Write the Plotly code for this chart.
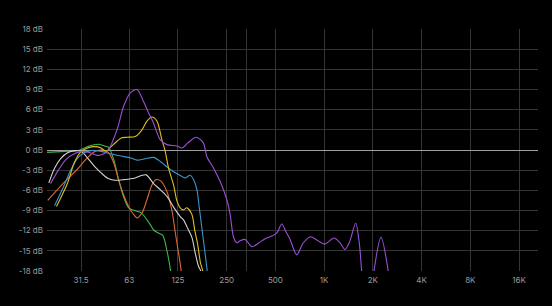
import plotly.graph_objects as go
import math

# ---- data (frequency in Hz, gain in dB) ----
purple_f = [20.4, 22.8, 25.2, 29.0, 32.1, 35.9, 39.7, 43.2, 46.4, 52.5, 57.7, 63.4, 69.8, 76.6, 82.3, 88.0,
            97.2, 106.9, 123.2, 132.2, 144.6, 162.0, 179, 188.6, 206.3, 227.8, 250.6, 262.6, 275.2, 288.8,
            302.7, 325, 357.5, 390.9, 431.9, 485.7, 512, 547.2, 581.8, 615.8, 677.2, 743.6, 826, 890.8, 943,
            1012, 1151, 1253, 1345, 1429, 1566, 1648, 1705, 1787, 1918, 2030, 2243, 2487, 2622]
purple_db = [-5.0, -3.0, -1.5, -0.5, -0.2, -0.4, -0.8, -0.6, 0.0, 3.0, 6.5, 8.5, 9.0, 7.2, 5.5, 4.1,
             1.5, 0.8, 0.6, 0.3, 1.1, 1.9, 1.1, -1.0, -2.6, -4.7, -7.4, -9.6, -12.9, -13.8,
             -13.5, -13.3, -14.4, -13.9, -13.2, -12.7, -12.3, -11.0, -12.2, -13.3, -15.6, -13.8, -12.9, -13.3, -13.7,
             -14.0, -13.1, -13.8, -14.8, -13.8, -10.9, -13.8, -18, -24, -24, -18, -13.0, -18, -24]

yellow_f = [22.2, 26.0, 28.6, 31.5, 34.6, 38.0, 41.9, 44.9, 48.3, 52.5, 55.8, 60.5, 68.1, 74.9, 80.4, 86.3,
            92.7, 99.5, 104.3, 109.3, 117.4, 123.2, 129.1, 135.3, 141.9, 152.4, 158.6, 165, 172.2, 177.7, 186.7]
yellow_db = [-8.4, -4.9, -1.9, -0.2, 0.3, 0.5, 0.3, -0.2, 0.5, 1.3, 1.8, 1.9, 2.0, 3.0, 4.3, 4.9,
             4.3, 1.5, -0.2, -2.7, -5.2, -7.6, -8.6, -8.9, -8.6, -9.6, -11.9, -13.9, -16.8, -18, -24]

blue_f = [21.6, 24.3, 27.3, 30.0, 33.0, 36.3, 41.9, 48.3, 55.6, 64.1, 69.8, 78.5, 88.4, 97.2, 104.3, 112,
          129.1, 138.6, 148.8, 155.9, 163.6, 169.1, 179.7, 189.4, 197.7]
blue_db = [-8.3, -5.7, -2.9, -1.2, -0.4, -0.1, -0.2, -0.6, -0.9, -1.2, -1.5, -1.3, -1.1, -1.7, -2.3, -2.9,
           -3.8, -4.15, -3.75, -4.4, -5.9, -8.5, -13.5, -18, -24]

white_f = [19.9, 21.6, 23.7, 26.0, 28.6, 31.5, 34.6, 38.0, 41.9, 46.0, 50.6, 58.3, 67.1, 74.2, 79.6, 88.4,
           97.2, 106.9, 117.4, 129.1, 135.3, 141.9, 152.4, 159.7, 167.4, 172.7, 181.5]
white_db = [-4.9, -2.7, -1.2, -0.4, -0.1, -0.2, -1.2, -2.4, -3.4, -4.2, -4.5, -4.4, -4.2, -3.8, -3.7, -5.0,
            -5.9, -6.9, -8.5, -9.9, -10.4, -11.4, -13.0, -15.3, -17.3, -18, -24]

orange_f = [19.6, 24.6, 29.8, 34.3, 38.6, 43.4, 46.6, 50.1, 53.7, 57.7, 61.9, 66.5, 69.8, 75.2, 80.4, 86.3,
            91.8, 97.8, 106.9, 114.7, 120.2, 126, 130.9, 138.6]
orange_db = [-7.5, -4.9, -2.9, -1.2, -0.2, 0.0, -0.4, -1.9, -4.4, -6.7, -8.4, -9.6, -10.1, -9.3, -7.4, -5.2,
             -4.4, -4.6, -6.2, -9.0, -12.2, -15.3, -18, -24]

green_f = [19.4, 24.9, 30.0, 34.6, 40.3, 43.9, 46.6, 50.1, 53.7, 57.7, 61.9, 67.1, 74.2, 80.4, 84.3, 88.4,
           93.8, 100.7, 106.9, 112.5, 117.7]
green_db = [-0.35, -0.2, -0.1, 0.5, 0.85, 0.6, 0.4, -1.4, -4.4, -7.0, -8.6, -9.0, -9.35, -10.4, -11.1, -11.9,
            -12.3, -12.7, -15.0, -18, -24]

x_tick_vals = [31.5, 62.5, 125, 250, 332, 500, 1000, 2000, 4000, 8000, 16000]
x_tick_text = ["31.5", "63", "125", "250", "", "500", "1K", "2K", "4K", "8K", "16K"]
y_tick_vals = [18, 15, 12, 9, 6, 3, 0, -3, -6, -9, -12, -15, -18]
y_tick_text = [f"{v} dB" for v in y_tick_vals]

series = [
    (green_f, green_db, "#3fb54f"),
    (orange_f, orange_db, "#dc6a32"),
    (white_f, white_db, "#d2d2d2"),
    (blue_f, blue_db, "#3a95cc"),
    (yellow_f, yellow_db, "#dcbf1e"),
    (purple_f, purple_db, "#9c4fd6"),
]

fig = go.Figure()
for f, db, c in series:
    fig.add_trace(go.Scatter(x=f, y=db, mode="lines",
                             line=dict(color=c, width=1.1, shape="spline", smoothing=0.8),
                             hoverinfo="skip", showlegend=False))

fig.update_layout(
    width=552, height=306,
    margin=dict(l=47, r=14, t=29, b=35),
    paper_bgcolor="#000000", plot_bgcolor="#000000",
    font=dict(family="Inter, Roboto, sans-serif", size=8, color="#9a9a9a"),
    showlegend=False,
)
fig.update_xaxes(type="log", range=[math.log10(19.4), math.log10(20950)],
                 tickvals=x_tick_vals, ticktext=x_tick_text,
                 showgrid=True, gridcolor="#353535", gridwidth=1,
                 zeroline=False, showline=False, ticks="", ticklabelstandoff=3)
fig.update_yaxes(range=[-18, 18], tickvals=y_tick_vals, ticktext=y_tick_text,
                 showgrid=True, gridcolor="#353535", gridwidth=1,
                 zeroline=True, zerolinecolor="#a0a0a0", zerolinewidth=1,
                 showline=False, ticks="", ticklabelstandoff=3)

fig.write_html("out.html")
